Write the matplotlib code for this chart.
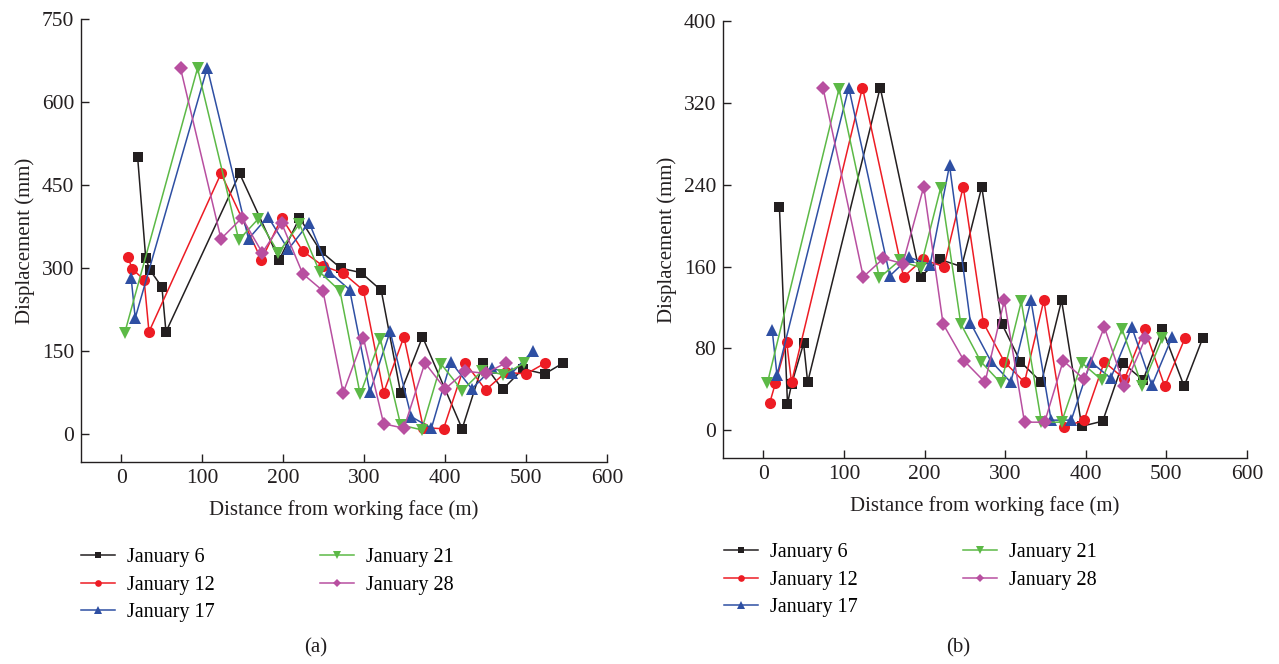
import matplotlib
matplotlib.use('Agg')
import matplotlib.pyplot as plt

plt.rcParams['font.family'] = ['Liberation Serif', 'DejaVu Serif']

# ---- data (a) ----
jan6_xa = [20, 30, 35, 50, 55, 146, 195, 220, 246, 271, 296, 321, 345, 372, 421, 447, 471, 496, 523, 546]
jan6_ya = [500, 318, 297, 266, 185, 471, 315, 391, 331, 300, 292, 260, 75, 176, 10, 129, 81, 118, 109, 129]
jan12_xa = [8, 13, 28, 34, 123, 173, 198, 224, 249, 274, 299, 324, 349, 373, 398, 425, 450, 475, 500, 524]
jan12_ya = [321, 299, 279, 185, 471, 315, 391, 331, 304, 291, 260, 75, 176, 12, 10, 129, 80, 112, 109, 129]
jan17_xa = [12, 17, 106, 157, 181, 206, 232, 257, 282, 307, 332, 358, 383, 407, 433, 458, 482, 508]
jan17_ya = [282, 210, 662, 353, 393, 334, 382, 293, 261, 76, 186, 32, 11, 131, 82, 119, 110, 150]
jan21_xa = [4, 94, 145, 169, 194, 220, 245, 270, 295, 320, 345, 371, 395, 421, 446, 472, 497]
jan21_ya = [183, 661, 351, 389, 328, 380, 293, 259, 72, 172, 17, 8, 127, 79, 115, 108, 128]
jan28_xa = [73, 123, 149, 174, 198, 224, 249, 274, 299, 324, 349, 375, 400, 425, 450, 475]
jan28_ya = [661, 353, 391, 328, 381, 290, 259, 75, 174, 19, 11, 129, 82, 114, 110, 129]

# ---- data (b) ----
jan6_xb = [20, 30, 35, 50, 55, 145, 195, 219, 246, 271, 296, 319, 345, 370, 395, 421, 446, 471, 495, 522, 545]
jan6_yb = [218, 26, 45, 85, 47, 335, 150, 167, 160, 238, 104, 67, 47, 127, 4, 9, 66, 49, 99, 43, 90]
jan12_xb = [8, 15, 29, 35, 123, 174, 198, 224, 248, 273, 299, 324, 348, 373, 398, 423, 448, 473, 498, 523]
jan12_yb = [27, 46, 86, 47, 335, 150, 167, 160, 238, 105, 67, 47, 127, 3, 10, 67, 50, 99, 43, 90]
jan17_xb = [11, 17, 106, 157, 181, 207, 231, 257, 282, 307, 332, 357, 382, 406, 431, 457, 482, 507]
jan17_yb = [98, 54, 335, 151, 169, 162, 259, 105, 68, 47, 127, 10, 10, 67, 51, 101, 44, 91]
jan21_xb = [5, 94, 144, 169, 195, 220, 245, 270, 295, 320, 345, 370, 395, 420, 445, 470, 495]
jan21_yb = [46, 334, 149, 166, 159, 237, 104, 67, 46, 126, 8, 8, 66, 49, 99, 43, 90]
jan28_xb = [74, 124, 149, 173, 199, 223, 249, 275, 299, 324, 349, 372, 398, 423, 448, 474]
jan28_yb = [335, 150, 168, 163, 238, 104, 68, 47, 127, 8, 8, 68, 50, 101, 43, 90]

labels = ['January 6', 'January 12', 'January 17', 'January 21', 'January 28']
colors = ['#231f20', '#ed1c24', '#2e4fa3', '#5cb946', '#b84fa0']
markers = ['s', 'o', '^', 'v', 'D']
msizes = [7.5, 8, 8.5, 8.5, 7.5]

series_a = [(jan6_xa, jan6_ya), (jan12_xa, jan12_ya), (jan17_xa, jan17_ya),
            (jan21_xa, jan21_ya), (jan28_xa, jan28_ya)]
series_b = [(jan6_xb, jan6_yb), (jan12_xb, jan12_yb), (jan17_xb, jan17_yb),
            (jan21_xb, jan21_yb), (jan28_xb, jan28_yb)]

W, H = 1279, 664
fig = plt.figure(figsize=(W / 100, H / 100), dpi=100)


def box(left, top, right, bottom):
    return [left / W, 1 - bottom / H, (right - left) / W, (bottom - top) / H]


def draw(ax, series, ylim, yticks, leg_x, leg_top, caption, cap_x):
    for (x, y), lab, c, m, ms in zip(series, labels, colors, markers, msizes):
        ax.plot(x, y, color=c, marker=m, markersize=ms, linewidth=1.1,
                markeredgewidth=0, label=lab)
    ax.set_xlim(-50, 600)
    ax.set_ylim(*ylim)
    ax.set_xticks([0, 100, 200, 300, 400, 500, 600])
    ax.set_yticks(yticks)
    for s in ['top', 'right']:
        ax.spines[s].set_visible(False)
    for s in ['left', 'bottom']:
        ax.spines[s].set_linewidth(1.0)
        ax.spines[s].set_color('#231f20')
    ax.tick_params(direction='in', length=6, width=1.0, labelsize=15.5,
                   colors='#231f20', pad=5)
    ax.set_xlabel('Distance from working face (m)', fontsize=15, labelpad=9,
                  color='#231f20')
    ax.set_ylabel('Displacement (mm)', fontsize=15, labelpad=5, color='#231f20')
    ax.legend(loc='upper left', bbox_to_anchor=(leg_x / W, 1 - leg_top / H),
              bbox_transform=fig.transFigure, ncol=2, frameon=False,
              fontsize=14.5, handlelength=1.7, handletextpad=0.6,
              columnspacing=5.2, labelspacing=0.42, borderpad=0,
              borderaxespad=0, markerscale=0.6)
    fig.text(cap_x / W, 1 - 648 / H, caption, fontsize=15, ha='center',
             va='center', color='#231f20')


ax1 = fig.add_axes(box(81, 19, 607, 462))
draw(ax1, series_a, (-50, 750), [0, 150, 300, 450, 600, 750], 81, 548, '(a)', 316)

ax2 = fig.add_axes(box(723, 21, 1247, 458))
draw(ax2, series_b, (-27, 400), [0, 80, 160, 240, 320, 400], 724, 543, '(b)', 958)

fig.savefig('out.png', dpi=100)
